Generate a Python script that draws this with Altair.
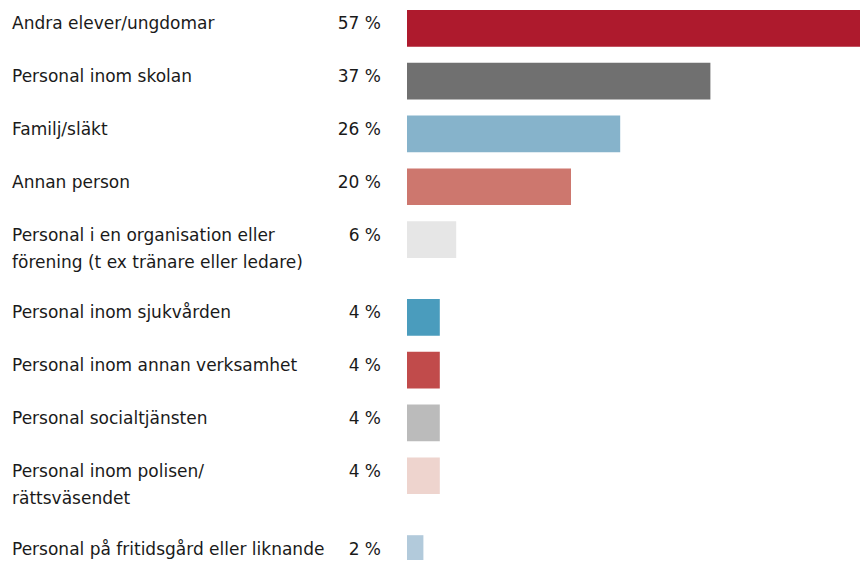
import altair as alt
import pandas as pd

categories = [
    "Andra elever/ungdomar",
    "Personal inom skolan",
    "Familj/släkt",
    "Annan person",
    "Personal i en organisation eller\nförening (t ex tränare eller ledare)",
    "Personal inom sjukvården",
    "Personal inom annan verksamhet",
    "Personal socialtjänsten",
    "Personal inom polisen/\nrättsväsendet",
    "Personal på fritidsgård eller liknande",
]
values = [57, 37, 26, 20, 6, 4, 4, 4, 4, 2]
colors = ["#AE1A2D", "#707070", "#86B3CB", "#CD776E", "#E6E6E6",
          "#4A9CBD", "#C14B4B", "#BBBBBB", "#EED4CE", "#B2CADB"]

# layout derived from label line counts
ROW_STEP = 52.8
EXTRA_LINE = 25.0
BAR_H = 36.7
FIRST_TOP = 2.0

rows = []
extra = 0.0
for i, (c, v) in enumerate(zip(categories, values)):
    top = FIRST_TOP + ROW_STEP * i + extra
    rows.append({"cat": c, "value": v, "label": f"{v} %",
                 "top": top, "bottom": top + BAR_H, "mid": top + BAR_H / 2})
    extra += EXTRA_LINE * (c.count("\n"))
df = pd.DataFrame(rows)

W, H = 852, 552
yscale = alt.Scale(domain=[0, H], reverse=True, nice=False, zero=False)
xscale = alt.Scale(domain=[0, (W - 399) / 8.2], range=[399, W], nice=False)

base = alt.Chart(df)

bars = base.mark_rect(clip=True).encode(
    x=alt.X("value:Q", scale=xscale, axis=None),
    x2=alt.datum(0),
    y=alt.Y("top:Q", scale=yscale, axis=None),
    y2="bottom:Q",
    color=alt.Color("cat:N", scale=alt.Scale(domain=categories, range=colors), legend=None),
)

FONT = "DejaVu Sans"
cat_text = base.mark_text(
    align="left", baseline="alphabetic", dy=1, font=FONT, fontSize=17,
    lineBreak="\n", lineHeight=27, color="#1a1a1a",
).encode(
    x=alt.value(4),
    y=alt.Y("mid:Q", scale=yscale, axis=None),
    text="cat:N",
)

pct_text = base.mark_text(
    align="right", baseline="alphabetic", dy=1, font=FONT, fontSize=17,
    color="#1a1a1a",
).encode(
    x=alt.value(373),
    y=alt.Y("mid:Q", scale=yscale, axis=None),
    text="label:N",
)

chart = alt.layer(bars, cat_text, pct_text).properties(
    width=W, height=H, padding=0,
    autosize=alt.AutoSizeParams(type="none"),
).configure_view(stroke=None)

chart.save("out.html", embed_options={"renderer": "svg", "actions": False})
